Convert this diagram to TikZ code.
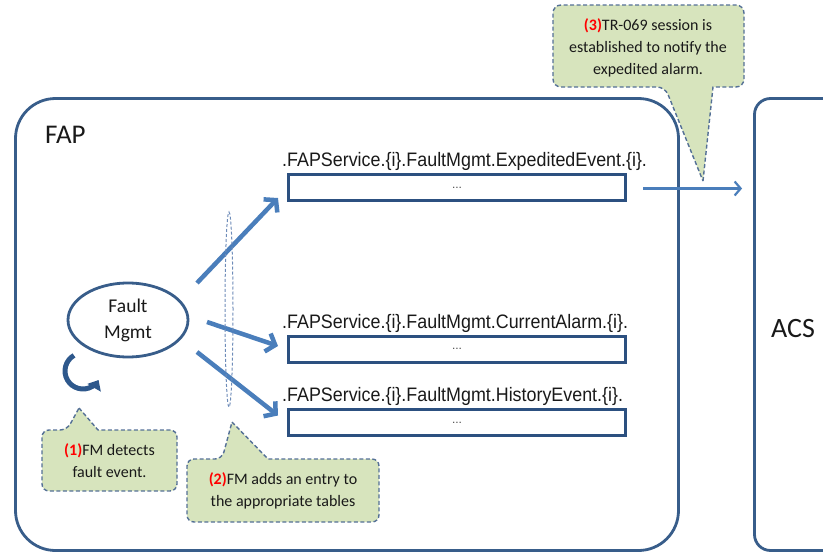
\documentclass[tikz,border=0pt]{standalone}
\usepackage{fontspec}
\usepackage{graphicx}
\setmainfont{Carlito}
\newfontfamily\arialfont{Liberation Sans}
\usetikzlibrary{arrows.meta,calc,shapes.geometric}

\definecolor{frameblue}{RGB}{56,93,138}
\definecolor{tableblue}{RGB}{44,80,128}
\definecolor{arrowblue}{RGB}{74,126,187}
\definecolor{loopblue}{RGB}{46,88,140}
\definecolor{calloutfill}{RGB}{215,228,189}
\definecolor{calloutline}{RGB}{84,112,150}
\definecolor{selline}{RGB}{110,140,185}
\definecolor{textdark}{RGB}{25,25,25}

% red step number in front of a callout text
\newcommand\stepno[1]{\textcolor{red}{\textbf{(#1)}}}
% data model path printed above each table, set slightly condensed
\newcommand\tblpath[1]{\scalebox{0.917}[1]{#1}}

\begin{document}
\begin{tikzpicture}[x=1pt,y=-1pt,
  frame/.style={draw=frameblue, line width=2.8pt},
  tablebox/.style={draw=tableblue, line width=3pt, minimum width=337pt,
    minimum height=26pt, inner sep=0pt, text=black!70,
    font=\arialfont\fontsize{12}{12}\selectfont},
  pathlabel/.style={anchor=base west, inner sep=0pt, text=textdark,
    font=\arialfont\fontsize{19.5}{23}\selectfont},
  bigarrow/.style={draw=arrowblue, line width=4.5pt,
    -{Straight Barb[length=8pt,width=19pt]}},
  thinarrow/.style={draw=arrowblue, line width=2.2pt,
    -{Straight Barb[length=6pt,width=14pt]}},
  callout/.style={fill=calloutfill, draw=calloutline, line width=1.4pt,
    dash pattern=on 4pt off 2.5pt},
  callouttext/.style={align=center, inner sep=0pt, text=textdark,
    font=\fontsize{16}{22}\selectfont},
]
\useasboundingbox (0,0) rectangle (823,554);
\clip (0,0) rectangle (823,554);

% the two systems
\node[frame, rounded corners=40pt, minimum width=663pt, minimum height=452pt,
  inner sep=0pt] (fap) at (347,324.5) {};
\node[anchor=base west, inner sep=0pt, text=textdark,
  font=\fontsize{27}{30}\selectfont] (faplabel) at (45,143) {FAP};
\node[frame, rounded corners=16pt, minimum width=120pt, minimum height=452pt,
  inner sep=0pt] (acs) at (814.5,324.5) {};
\node[anchor=base west, inner sep=0pt, text=textdark,
  font=\fontsize{28}{30}\selectfont] (acslabel) at (771,337) {ACS};

% fault management function
\node[ellipse, draw=frameblue, line width=2.8pt, minimum width=120pt,
  minimum height=74pt, inner sep=0pt, align=center, text=textdark,
  font=\fontsize{19.5}{26}\selectfont] (fm) at (128,320) {Fault\\Mgmt};
\draw[draw=loopblue, line width=5pt, -{Triangle[length=9pt,width=15pt]}]
  ([shift={(120:18pt)}]83,371) arc[start angle=120, end angle=330, radius=18pt];

% tables
\node[tablebox] (t1) at (457,187.5) {...};
\node[tablebox] (t2) at (457,349) {...};
\node[tablebox] (t3) at (457,422.5) {...};
\node[pathlabel] (l1) at ($(t1.north west)+(-5,-7)$)
  {\tblpath{.FAPService.\{i\}.FaultMgmt.ExpeditedEvent.\{i\}.}};
\node[pathlabel] (l2) at ($(t2.north west)+(-5,-6)$)
  {\tblpath{.FAPService.\{i\}.FaultMgmt.CurrentAlarm.\{i\}.}};
\node[pathlabel] (l3) at ($(t3.north west)+(-5,-7)$)
  {\tblpath{.FAPService.\{i\}.FaultMgmt.HistoryEvent.\{i\}.}};

% entries written into the tables
\draw[bigarrow] ($(fm.center)+(69,-37)$) -- ($(t1.south west)+(-9,-4)$);
\draw[bigarrow] ($(fm.center)+(79,2)$) -- ($(t2.west)+(-9,-3)$);
\draw[bigarrow] ($(fm.center)+(69,32)$) -- ($(t3.west)+(-9,-7)$);

% selection of the written tables
\node[ellipse, draw=selline, line width=1pt, dash pattern=on 3pt off 2pt,
  minimum width=8pt, minimum height=195pt, inner sep=0pt] (sel) at (229,309.5) {};

% notification towards the ACS
\draw[thinarrow] ($(t1.east)+(16,1)$) -- ($(acs.west |- t1.east)+(-11,1)$);

% callout 3
\draw[callout] (703,181) -- (713,87) [rounded corners=8pt] -- (744,87) -- (744,5)
  -- (553,5) -- (553,87) -- (665,87) [sharp corners] -- cycle;
\node[callouttext] (c3) at (648,48)
  {\stepno{3}TR-069 session is\\established to notify the\\expedited alarm.};

% callout 1
\draw[callout] (79,408) -- (98,430) [rounded corners=7pt] -- (177,430) -- (177,491)
  -- (42,491) -- (42,430) -- (67,430) [sharp corners] -- cycle;
\node[callouttext] (c1) at (109.5,461) {\stepno{1}FM detects\\fault event.};

% callout 2
\draw[callout] (232,422) -- (268,459) [rounded corners=7pt] -- (379,459) -- (379,522)
  -- (187,522) -- (187,459) -- (222,459) [sharp corners] -- cycle;
\node[callouttext] (c2) at (283,491) {\stepno{2}FM adds an entry to\\the appropriate tables};
\end{tikzpicture}
\end{document}
